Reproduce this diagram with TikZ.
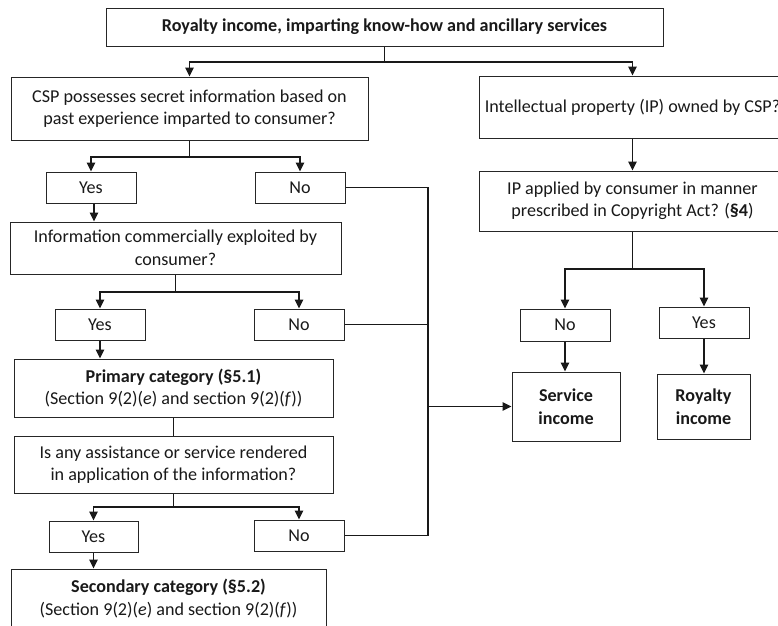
\documentclass[tikz,border=0pt]{standalone}
\usepackage{fontspec}
\setmainfont{Carlito}
\usetikzlibrary{arrows.meta}
\begin{document}
\begin{tikzpicture}[x=1pt,y=-1pt,
  box/.style={draw=black!85,line width=1pt,rectangle,inner sep=0pt,align=center,
    font=\fontsize{18.1}{22.5}\selectfont,text=black!90},
  conn/.style={line width=1.4pt,draw=black!90},
  arr/.style={conn,-{Triangle[length=9pt,width=8.5pt]}}]
\clip (0,0) rectangle (778,625);
\fill[white] (0,0) rectangle (778,625);
% nodes
\node[box,minimum width=557pt,minimum height=38pt] (title) at (384.5,27) {\textbf{Royalty income, imparting know-how and ancillary services}};
\node[box,minimum width=357pt,minimum height=63pt] (csp) at (189.5,108.5) {CSP possesses secret information based on\\past experience imparted to consumer?};
\node[box,minimum width=90pt,minimum height=31pt] (yes1) at (91,187.5) {Yes};
\node[box,minimum width=90pt,minimum height=31pt] (no1) at (300,187.5) {No};
\node[box,minimum width=331pt,minimum height=52pt] (info) at (175.5,248) {Information commercially exploited by\\consumer?};
\node[box,minimum width=90pt,minimum height=31pt] (yes2) at (100,324.5) {Yes};
\node[box,minimum width=90pt,minimum height=31pt] (no2) at (299,324.5) {No};
\node[box,minimum width=319pt,minimum height=58pt] (prim) at (173.5,388) {\textbf{Primary category (§5.1)}\\(Section 9(2)(\textit{e}) and section 9(2)(\textit{f}))};
\node[box,minimum width=319pt,minimum height=57pt] (q3) at (173.5,464.5) {Is any assistance or service rendered\\in application of the information?};
\node[box,minimum width=89pt,minimum height=31pt] (yes4) at (93.5,536.5) {Yes};
\node[box,minimum width=90pt,minimum height=31pt] (no4) at (299,535.5) {No};
\node[box,minimum width=315pt,minimum height=59pt] (sec) at (168.5,598.5) {\textbf{Secondary category (§5.2)}\\(Section 9(2)(\textit{e}) and section 9(2)(\textit{f}))};
\node[box,minimum width=307pt,minimum height=62pt] (ip) at (632.5,107) {Intellectual property (IP) owned by CSP?};
\node[box,minimum width=307pt,minimum height=60pt] (ip2) at (632.5,201) {IP applied by consumer in manner\\prescribed in Copyright Act? (\textbf{§4})};
\node[box,minimum width=90pt,minimum height=32pt] (no5) at (565,325) {No};
\node[box,minimum width=90pt,minimum height=31pt] (yes5) at (704,322.5) {Yes};
\node[box,minimum width=108pt,minimum height=69pt] (serv) at (566,406.5) {\textbf{Service}\\\textbf{income}};
\node[box,minimum width=93pt,minimum height=65pt] (roy) at (703.5,406.5) {\textbf{Royalty}\\\textbf{income}};
% junction coordinates
\coordinate (j0) at (384.5,62);
\coordinate (j1) at (189.5,157);
\coordinate (j2) at (175.5,292);
\coordinate (j3) at (173.5,507);
\coordinate (j4) at (632.5,269);
\coordinate (c1) at (428,187.5);
\coordinate (c4) at (428,535.5);
\coordinate (cs) at (428,406.5);
% connectors
\draw[conn] (title.south) -- (j0);
\draw[arr] (j0) -| (csp.north);
\draw[arr] (j0) -| (ip.north);
\draw[conn] (csp.south) -- (j1);
\draw[arr] (j1) -| (yes1.north);
\draw[arr] (j1) -| (no1.north);
\draw[arr] ([xshift=3pt]yes1.south) -- ([xshift=3pt]yes1.south |- info.north);
\draw[conn] (info.south) -- (j2);
\draw[arr] (j2) -| (yes2.north);
\draw[arr] (j2) -| (no2.north);
\draw[arr] (yes2.south) -- (yes2.south |- prim.north);
\draw[conn] (prim.south) -- (q3.north);
\draw[conn] (q3.south) -- (j3);
\draw[arr] (j3) -| (yes4.north);
\draw[arr] (j3) -| (no4.north);
\draw[arr] (yes4.south) -- (yes4.south |- sec.north);
\draw[conn] (no1.east) -- (c1) -- (c4) -- (no4.east);
\draw[conn] (no2.east) -- (no2.east -| c1);
\draw[arr] (cs) -- (serv.west);
\draw[arr] (ip.south) -- (ip2.north);
\draw[conn] (ip2.south) -- (j4);
\draw[arr] (j4) -| (no5.north);
\draw[arr] (j4) -| (yes5.north);
\draw[arr] (no5.south) -- (no5.south |- serv.north);
\draw[arr] (yes5.south) -- (yes5.south |- roy.north);
\end{tikzpicture}
\end{document}
